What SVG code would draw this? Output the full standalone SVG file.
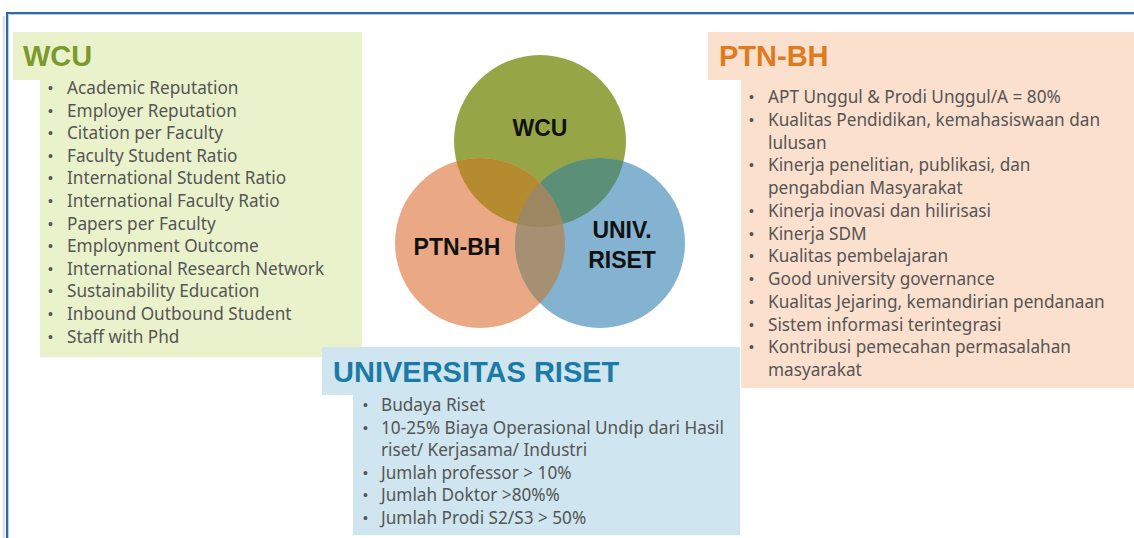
<svg xmlns="http://www.w3.org/2000/svg" width="1134" height="538" viewBox="0 0 1134 538">
<defs>
<style>
.item{font-family:"Noto Sans","Liberation Sans",sans-serif;font-size:17.2px;fill:#555}
.bul{font-family:"Liberation Sans",sans-serif;font-size:14px;fill:#555}
.title{font-family:"Liberation Sans",Arial,sans-serif;font-weight:bold;font-size:29px}
.vl{font-family:"Liberation Sans",Arial,sans-serif;font-weight:bold;font-size:23px;fill:#111;text-anchor:middle}
</style>
<clipPath id="cW"><circle cx="540" cy="141" r="86"/></clipPath>
<clipPath id="cP"><circle cx="480" cy="243" r="85"/></clipPath>
</defs>
<rect width="1134" height="538" fill="#fff"/>
<g id="frame">
<line x1="4" y1="16" x2="4" y2="538" stroke="#e4e4e4" stroke-width="3"/>
<line x1="7" y1="13" x2="1134" y2="13" stroke="#2f6aa6" stroke-width="2"/>
<line x1="7" y1="12" x2="7" y2="538" stroke="#2f6aa6" stroke-width="2"/>
<line x1="8.5" y1="14.5" x2="1134" y2="14.5" stroke="#b9d0ea" stroke-width="1"/>
<line x1="8.5" y1="14.5" x2="8.5" y2="538" stroke="#b9d0ea" stroke-width="1"/>
</g>
<g id="wcu-box">
<rect x="13" y="32" width="349" height="48" fill="#eaf2cc"/>
<rect x="40" y="80" width="322" height="277" fill="#eaf2cc"/>
<text class="title" x="23" y="66" fill="#7b9a2c" font-size="30">WCU</text>
<g class="item" transform="translate(0,1)">
<text x="67" y="93">Academic Reputation</text>
<text x="67" y="115.6">Employer Reputation</text>
<text x="67" y="138.2">Citation per Faculty</text>
<text x="67" y="160.8">Faculty Student Ratio</text>
<text x="67" y="183.4">International Student Ratio</text>
<text x="67" y="206">International Faculty Ratio</text>
<text x="67" y="228.6">Papers per Faculty</text>
<text x="67" y="251.2">Employnment Outcome</text>
<text x="67" y="273.8">International Research Network</text>
<text x="67" y="296.4">Sustainability Education</text>
<text x="67" y="319">Inbound Outbound Student</text>
<text x="67" y="341.6">Staff with Phd</text>
</g>
<g class="bul" transform="translate(0,1)">
<text x="48" y="92">•</text><text x="48" y="114.6">•</text><text x="48" y="137.2">•</text><text x="48" y="159.8">•</text><text x="48" y="182.4">•</text><text x="48" y="205">•</text><text x="48" y="227.6">•</text><text x="48" y="250.2">•</text><text x="48" y="272.8">•</text><text x="48" y="295.4">•</text><text x="48" y="318">•</text><text x="48" y="340.6">•</text>
</g>
</g>
<g id="ptnbh-box">
<rect x="708" y="32" width="426" height="48" fill="#fbe0ce"/>
<rect x="741" y="80" width="393" height="308" fill="#fbe0ce"/>
<text class="title" x="719" y="66" fill="#e07a1e">PTN-BH</text>
<g class="item" transform="translate(0,1)">
<text x="768" y="102">APT Unggul &amp; Prodi Unggul/A = 80%</text>
<text x="768" y="124.8">Kualitas Pendidikan, kemahasiswaan dan</text>
<text x="768" y="147.5">lulusan</text>
<text x="768" y="170.2">Kinerja penelitian, publikasi, dan</text>
<text x="768" y="193">pengabdian Masyarakat</text>
<text x="768" y="215.8">Kinerja inovasi dan hilirisasi</text>
<text x="768" y="238.5">Kinerja SDM</text>
<text x="768" y="261.2">Kualitas pembelajaran</text>
<text x="768" y="284">Good university governance</text>
<text x="768" y="306.8">Kualitas Jejaring, kemandirian pendanaan</text>
<text x="768" y="329.5">Sistem informasi terintegrasi</text>
<text x="768" y="352.2">Kontribusi pemecahan permasalahan</text>
<text x="768" y="375">masyarakat</text>
</g>
<g class="bul" transform="translate(0,1)">
<text x="749" y="101">•</text><text x="749" y="123.8">•</text><text x="749" y="169.2">•</text><text x="749" y="214.8">•</text><text x="749" y="237.5">•</text><text x="749" y="260.2">•</text><text x="749" y="283">•</text><text x="749" y="305.8">•</text><text x="749" y="328.5">•</text><text x="749" y="351.2">•</text>
</g>
</g>
<g id="ur-box">
<rect x="322" y="347" width="418" height="48" fill="#cfe5ef"/>
<rect x="353" y="395" width="387" height="140" fill="#cfe5ef"/>
<text class="title" x="333" y="382" fill="#1b7aa6">UNIVERSITAS RISET</text>
<g class="item" transform="translate(0,1)">
<text x="381" y="410">Budaya Riset</text>
<text x="381" y="432.6">10-25% Biaya Operasional Undip dari Hasil</text>
<text x="381" y="455.2">riset/ Kerjasama/ Industri</text>
<text x="381" y="477.8">Jumlah professor &gt; 10%</text>
<text x="381" y="500.4">Jumlah Doktor &gt;80%%</text>
<text x="381" y="523">Jumlah Prodi S2/S3 &gt; 50%</text>
</g>
<g class="bul" transform="translate(0,1)">
<text x="363" y="409">•</text><text x="363" y="431.6">•</text><text x="363" y="476.8">•</text><text x="363" y="499.4">•</text><text x="363" y="522">•</text>
</g>
</g>
<g id="venn">
<g id="circle-wcu"><circle cx="540" cy="141" r="86" fill="#96a646"/></g>
<g id="circle-ptnbh"><circle cx="480" cy="243" r="85" fill="#eaa884"/></g>
<g id="circle-riset"><circle cx="600" cy="243" r="85" fill="#84b3d2"/></g>
<g clip-path="url(#cW)"><circle cx="480" cy="243" r="85" fill="#b58b2f"/></g>
<g clip-path="url(#cW)"><circle cx="600" cy="243" r="85" fill="#5c8f78"/></g>
<g clip-path="url(#cP)"><circle cx="600" cy="243" r="85" fill="#a69073"/></g>
<g clip-path="url(#cW)"><g clip-path="url(#cP)"><circle cx="600" cy="243" r="85" fill="#9c8762"/></g></g>
<text class="vl" x="540" y="136">WCU</text>
<text class="vl" x="457" y="255">PTN-BH</text>
<text class="vl" x="622" y="238">UNIV.</text>
<text class="vl" x="622" y="268">RISET</text>
</g>
</svg>
